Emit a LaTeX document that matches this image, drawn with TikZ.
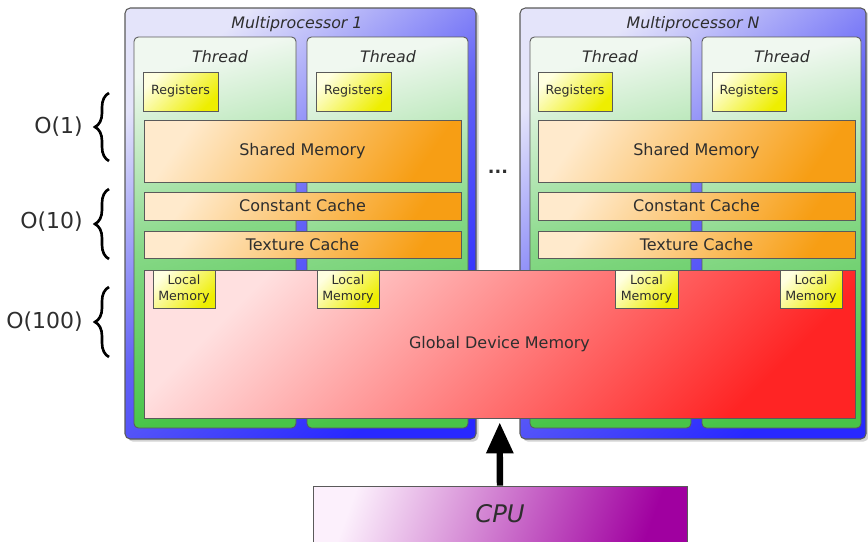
\documentclass[tikz,border=0pt]{standalone}
\usepackage{fontspec}
\setmainfont{DejaVu Sans}
\usepackage{tikz}
\usetikzlibrary{arrows.meta,fit,shadows,decorations.pathreplacing}
\usepackage{xcolor}
\definecolor{Edge}{HTML}{5A5A5A}
\definecolor{Ink}{HTML}{2E2E2E}
\definecolor{MPLight}{HTML}{E4E4FA}
\definecolor{MPMid}{HTML}{6262F6}
\definecolor{MPBlue}{HTML}{2828FF}
\definecolor{ThrLight}{HTML}{F0F8F0}
\definecolor{ThrMid}{HTML}{86D886}
\definecolor{ThrGreen}{HTML}{48C448}
\definecolor{RegLight}{HTML}{FFFFE0}
\definecolor{RegYellow}{HTML}{EEEE00}
\definecolor{CacheLight}{HTML}{FFEACC}
\definecolor{CacheOrange}{HTML}{F79E14}
\definecolor{GlobLight}{HTML}{FFE0E0}
\definecolor{GlobRed}{HTML}{FF2424}
\definecolor{CpuLight}{HTML}{FCF0FC}
\definecolor{CpuPurple}{HTML}{A000A0}
\tikzset{
  mpbox/.style={draw=Edge, line width=0.6pt, rounded corners=3pt, inner sep=0pt,
    top color=MPLight, bottom color=MPBlue, middle color=MPMid, shading angle=40,
    drop shadow={shadow xshift=1.5pt, shadow yshift=-1.5pt, opacity=0.35}},
  thrbox/.style={draw=Edge, line width=0.5pt, rounded corners=2.5pt, inner sep=0pt,
    top color=ThrLight, bottom color=ThrGreen, middle color=ThrMid, shading angle=15},
  boxtext/.style={text=Ink, align=center, inner sep=0pt},
  regbox/.style={draw=Edge, line width=0.5pt, inner sep=0pt,
    top color=RegLight, bottom color=RegYellow, shading angle=45,
    label={[boxtext, font=\fontsize{7.2}{8.6}\selectfont]center:#1}},
  membox/.style={draw=Edge, line width=0.5pt, inner sep=0pt,
    top color=CacheLight, bottom color=CacheOrange, shading angle=55,
    label={[boxtext, font=\fontsize{9.1}{10}\selectfont]center:#1}},
  globbox/.style={draw=Edge, line width=0.5pt, inner sep=0pt,
    top color=GlobLight, bottom color=GlobRed, shading angle=45,
    label={[boxtext, font=\fontsize{9.1}{10}\selectfont]center:#1}},
  cpubox/.style={draw=Edge, line width=0.5pt, inner sep=0pt,
    top color=CpuLight, bottom color=CpuPurple, shading angle=70},
  titletext/.style={font=\fontsize{9}{10}\selectfont\itshape, text=Ink},
  lvltext/.style={font=\fontsize{12.5}{14}\selectfont, anchor=east, inner sep=0pt, text=Ink},
  lvlbrace/.style={decorate, decoration={brace, amplitude=0.28cm}, line width=1.5pt},
  fatarr/.style={-{Triangle[length=0.62cm, width=0.52cm]}, line width=3.6pt},
}

\begin{document}
\begin{tikzpicture}[x=0.02cm, y=-0.02cm]
  \useasboundingbox (0,0) rectangle (868,541);

  % multiprocessors
  \node[mpbox, fit={(125,8) (476,439)}] (mp1) {};
  \node[mpbox, fit={(520,8) (866,439)}] (mpn) {};
  \node[titletext] (mp1t) at (297,24) {Multiprocessor 1};
  \node[titletext] (mpnt) at (693,24) {Multiprocessor N};

  % threads
  \node[thrbox, fit={(134,37) (296,428)}] (th11) {};
  \node[thrbox, fit={(307,37) (468,428)}] (th12) {};
  \node[thrbox, fit={(530,37) (691,428)}] (thn1) {};
  \node[thrbox, fit={(702,37) (861,428)}] (thn2) {};
  \node[titletext] (th11t) at (220,57) {Thread};
  \node[titletext] (th12t) at (388,57) {Thread};
  \node[titletext] (thn1t) at (610,57) {Thread};
  \node[titletext] (thn2t) at (782,57) {Thread};

  \node[regbox=Registers, fit={(143,72) (218,111)}] (reg11) {};
  \node[regbox=Registers, fit={(316,72) (391,111)}] (reg12) {};
  \node[regbox=Registers, fit={(538,72) (612,111)}] (regn1) {};
  \node[regbox=Registers, fit={(712,72) (786,111)}] (regn2) {};

  % on-chip memories
  \node[membox=Shared Memory, fit={(144,120) (461,182)}] (sh1) {};
  \node[membox=Shared Memory, fit={(538,120) (855,182)}] (shn) {};
  \node[membox=Constant Cache, fit={(144,192) (461,220)}] (cc1) {};
  \node[membox=Constant Cache, fit={(538,192) (855,220)}] (ccn) {};
  \node[membox=Texture Cache, fit={(144,231) (461,258)}] (tc1) {};
  \node[membox=Texture Cache, fit={(538,231) (855,258)}] (tcn) {};

  \node[font=\fontsize{10}{12}\selectfont\bfseries, text=Ink] (dots) at (498,172) {...};

  % device memory
  \node[globbox=Global Device Memory, fit={(144,270) (855,418)}] (gdm) {};
  \node[regbox=Local\\Memory, fit={(153,270) (215,308)}] (loc11) {};
  \node[regbox=Local\\Memory, fit={(317,270) (379,308)}] (loc12) {};
  \node[regbox=Local\\Memory, fit={(615,270) (678,308)}] (locn1) {};
  \node[regbox=Local\\Memory, fit={(780,270) (842,308)}] (locn2) {};

  % host
  \node[cpubox, fit={(313,486) (687,545)}] (cpu) {};
  \node[font=\fontsize{13.8}{15}\selectfont\itshape, text=Ink] (cput) at (500,514) {CPU};
  \draw[fatarr, shorten >=0.08cm] (cpu) -- (gdm);

  % latency levels
  \node[lvltext] (o1) at (83,127) {O(1)};
  \node[lvltext] (o10) at (83,222) {O(10)};
  \node[lvltext] (o100) at (83,322) {O(100)};
  \coordinate (b1s) at (109,161);
  \coordinate (b1e) at (109,93);
  \coordinate (b2s) at (109,259);
  \coordinate (b2e) at (109,189);
  \coordinate (b3s) at (109,357);
  \coordinate (b3e) at (109,287);
  \draw[lvlbrace] (b1s) -- (b1e);
  \draw[lvlbrace] (b2s) -- (b2e);
  \draw[lvlbrace] (b3s) -- (b3e);
\end{tikzpicture}
\end{document}
